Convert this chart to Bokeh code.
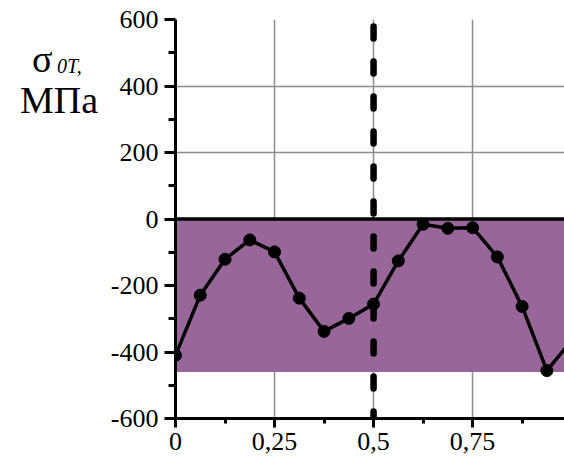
from bokeh.plotting import figure
from bokeh.layouts import row
from bokeh.models import Range1d, FixedTicker, Span, Div
from bokeh.embed import file_html
from bokeh.resources import INLINE

# data
x_vals = [0, 0.0625, 0.125, 0.1875, 0.25, 0.3125, 0.375, 0.4375, 0.5,
          0.5625, 0.625, 0.6875, 0.75, 0.8125, 0.875, 0.9375, 1.0]
sigma = [-410, -229, -121, -63, -99, -238, -338, -299, -256,
         -126, -16, -28, -26, -114, -263, -456, -365]
band_left, band_right, band_top, band_bottom = [0], [1.0], [0], [-460]
y_ticks = [-600, -400, -200, 0, 200, 400, 600]
y_minor = [-500, -300, -100, 100, 300, 500]
y_labels = {-600: "-600", -400: "-400", -200: "-200", 0: "0",
            200: "200", 400: "400", 600: "600"}
x_ticks = [0, 0.25, 0.5, 0.75]
x_minor = [0.125, 0.375, 0.625, 0.875]
x_labels = {0: "0", 0.25: "0,25", 0.5: "0,5", 0.75: "0,75"}
marker_x = 0.5
y_title_symbol = "σ"
y_title_sub = "0T,"
y_title_unit = "МПа"

FONT = "Liberation Serif"

p = figure(width=459, height=464, output_backend="svg", toolbar_location=None,
           x_range=Range1d(0, 0.982), y_range=Range1d(-600, 600),
           min_border_top=19, min_border_left=70, min_border_right=0,
           min_border_bottom=46, margin=0)
p.outline_line_color = None
p.background_fill_color = "white"

# grid
p.xgrid.ticker = FixedTicker(ticks=x_ticks)
p.ygrid.ticker = FixedTicker(ticks=y_ticks)
for g in (p.xgrid, p.ygrid):
    g.grid_line_color = "#8c8c8c"
    g.grid_line_width = 1.5

# purple band
p.quad(left=band_left, right=band_right, top=band_top, bottom=band_bottom,
       fill_color="#996699", line_color=None)

# zero line
p.add_layout(Span(location=0, dimension="width", line_color="black", line_width=3.5))

# data
p.line(x_vals, sigma, line_color="black", line_width=3.5)
p.scatter(x_vals, sigma, size=12, marker="circle", color="black")

# dashed vertical line
p.add_layout(Span(location=marker_x, dimension="height", line_color="black",
                  line_width=6.5, line_dash="12 23", line_dash_offset=28,
                  line_cap="round"))

# axes
p.yaxis.ticker = FixedTicker(ticks=y_ticks, minor_ticks=y_minor)
p.xaxis.ticker = FixedTicker(ticks=x_ticks, minor_ticks=x_minor)
p.xaxis.major_label_overrides = x_labels
p.yaxis.major_label_overrides = y_labels
for ax in (p.xaxis, p.yaxis):
    ax.axis_line_width = 3
    ax.axis_line_color = "black"
    ax.major_tick_line_width = 3
    ax.minor_tick_line_width = 3
    ax.major_tick_in = 0
    ax.minor_tick_in = 0
    ax.major_label_text_font = FONT
    ax.major_label_text_font_size = "26px"
    ax.major_label_text_color = "black"
p.yaxis.major_tick_out = 11
p.yaxis.minor_tick_out = 7
p.yaxis.major_label_standoff = 6
p.xaxis.major_tick_out = 9
p.xaxis.minor_tick_out = 5
p.xaxis.major_label_standoff = 5

# y axis title (left of the plot)
html = (
    f'<div style="position:relative;width:105px;height:464px;'
    f'font-family:\'{FONT}\';color:black;">'
    f'<span style="position:absolute;left:32px;top:40px;font-size:38px;'
    f'line-height:38px;white-space:nowrap;">{y_title_symbol}</span>'
    f'<span style="position:absolute;left:57px;top:56px;font-size:20px;'
    f'line-height:20px;font-style:italic;white-space:nowrap;">{y_title_sub}</span>'
    f'<span style="position:absolute;left:20px;top:81px;font-size:38px;'
    f'line-height:38px;white-space:nowrap;">{y_title_unit}</span>'
    f'</div>'
)
label_div = Div(text=html, width=105, height=464, margin=0)

layout = row(label_div, p, spacing=0)

open("out.html", "w").write(file_html(layout, INLINE))
